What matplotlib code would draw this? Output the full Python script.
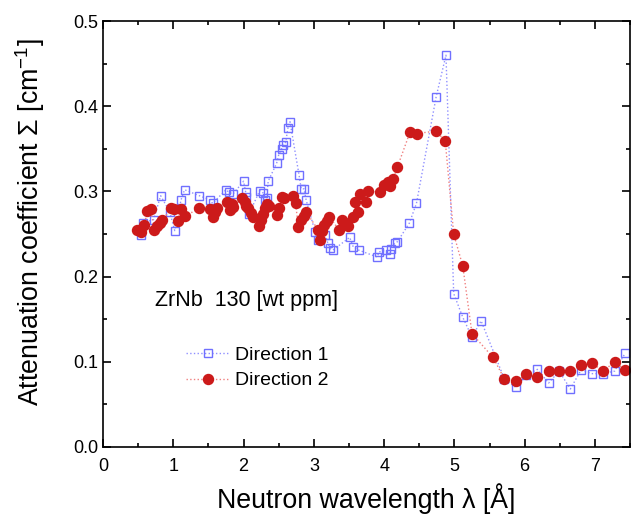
import matplotlib
matplotlib.use('Agg')
import matplotlib.pyplot as plt
from matplotlib.ticker import MultipleLocator

plt.rcParams['font.family'] = ['Liberation Sans', 'DejaVu Sans']
plt.rcParams['mathtext.fontset'] = 'custom'
plt.rcParams['mathtext.rm'] = 'Liberation Sans'

# Direction 1 (open squares)
x1 = [0.54, 0.57, 0.72, 0.82, 0.95, 1.02, 1.11, 1.16, 1.37, 1.52, 1.56, 1.75, 1.79, 1.85,
      2.00, 2.03, 2.04, 2.08, 2.23, 2.28, 2.30, 2.33, 2.35, 2.47, 2.50, 2.54, 2.56, 2.60,
      2.63, 2.66, 2.79, 2.82, 2.86, 2.89, 3.02, 3.06, 3.16, 3.20, 3.23, 3.27, 3.51, 3.56,
      3.64, 3.90, 3.93, 4.03, 4.08, 4.10, 4.15, 4.19, 4.36, 4.46, 4.74, 4.88, 4.99, 5.12,
      5.25, 5.38, 5.71, 5.87, 6.02, 6.18, 6.34, 6.49, 6.65, 6.80, 6.96, 7.12, 7.28, 7.43]
y1 = [0.249, 0.263, 0.267, 0.295, 0.276, 0.254, 0.290, 0.302, 0.295, 0.290, 0.286, 0.302,
      0.299, 0.297, 0.312, 0.299, 0.293, 0.274, 0.301, 0.298, 0.290, 0.292, 0.312, 0.333,
      0.343, 0.350, 0.354, 0.358, 0.374, 0.382, 0.319, 0.303, 0.303, 0.290, 0.252, 0.243,
      0.249, 0.239, 0.233, 0.231, 0.246, 0.235, 0.231, 0.223, 0.229, 0.231, 0.227, 0.232,
      0.239, 0.241, 0.263, 0.286, 0.411, 0.460, 0.180, 0.152, 0.129, 0.148, 0.080, 0.070,
      0.084, 0.091, 0.075, 0.089, 0.068, 0.090, 0.086, 0.086, 0.089, 0.110]

# Direction 2 (filled circles)
x2 = [0.49, 0.54, 0.59, 0.63, 0.68, 0.73, 0.77, 0.81, 0.84, 0.97, 1.01, 1.06, 1.11, 1.16,
      1.37, 1.52, 1.56, 1.59, 1.62, 1.77, 1.80, 1.84, 1.85, 1.98, 2.02, 2.04, 2.06, 2.10,
      2.13, 2.22, 2.25, 2.28, 2.31, 2.33, 2.36, 2.47, 2.51, 2.54, 2.58, 2.70, 2.74, 2.78,
      2.82, 2.86, 2.89, 3.06, 3.09, 3.12, 3.15, 3.19, 3.22, 3.36, 3.40, 3.45, 3.48, 3.55,
      3.59, 3.63, 3.66, 3.74, 3.77, 3.94, 4.00, 4.05, 4.09, 4.13, 4.19, 4.37, 4.47, 4.74,
      4.87, 4.99, 5.12, 5.25, 5.55, 5.71, 5.87, 6.02, 6.18, 6.34, 6.49, 6.65, 6.80, 6.96,
      7.12, 7.28, 7.43]
y2 = [0.255, 0.252, 0.261, 0.277, 0.279, 0.255, 0.259, 0.263, 0.266, 0.280, 0.279, 0.265,
      0.279, 0.271, 0.280, 0.279, 0.270, 0.276, 0.280, 0.288, 0.278, 0.285, 0.282, 0.292,
      0.288, 0.283, 0.280, 0.275, 0.270, 0.259, 0.266, 0.274, 0.280, 0.285, 0.283, 0.272,
      0.280, 0.293, 0.292, 0.295, 0.286, 0.258, 0.266, 0.271, 0.276, 0.255, 0.243, 0.254,
      0.260, 0.265, 0.270, 0.255, 0.266, 0.263, 0.259, 0.270, 0.288, 0.276, 0.297, 0.288,
      0.301, 0.299, 0.307, 0.311, 0.306, 0.315, 0.329, 0.370, 0.368, 0.371, 0.359, 0.250,
      0.212, 0.133, 0.105, 0.080, 0.077, 0.085, 0.082, 0.089, 0.089, 0.089, 0.096, 0.098,
      0.089, 0.100, 0.090]

fig = plt.figure(figsize=(6.32, 5.16), dpi=100)
ax = fig.add_axes([0.163, 0.134, 0.834, 0.825])

ax.plot(x1, y1, ls=':', color='#9090ff', lw=1, marker='s', ms=6,
        mfc='none', mec='#7070ff', mew=1, label='Direction 1')
ax.plot(x2, y2, ls=':', color='#f08080', lw=1, marker='o', ms=7.2,
        mfc='#cc1a1a', mec='#cc1a1a', label='Direction 2')

ax.set_xlim(0, 7.5)
ax.set_ylim(0, 0.5)
ax.xaxis.set_major_locator(MultipleLocator(1))
ax.xaxis.set_minor_locator(MultipleLocator(0.5))
ax.yaxis.set_major_locator(MultipleLocator(0.1))
ax.yaxis.set_minor_locator(MultipleLocator(0.05))
ax.tick_params(which='both', direction='in', top=True, right=True, width=1.2, labelsize=13)
ax.tick_params(axis='x', pad=8)
ax.tick_params(which='major', length=6)
ax.tick_params(which='minor', length=3)
for s in ax.spines.values():
    s.set_linewidth(1.2)

ax.set_xlabel('Neutron wavelength λ [Å]', fontsize=19.3, labelpad=6)
ax.set_ylabel('Attenuation coefficient Σ [cm$^{-1}$]', fontsize=19.3)
ax.yaxis.set_label_coords(-0.106, 0.528)

ax.text(0.74, 0.172, 'ZrNb  130 [wt ppm]', fontsize=15.5, va='center')
ax.legend(loc='lower left', bbox_to_anchor=(0.125, 0.094), frameon=False, fontsize=14,
          handlelength=2.2, handletextpad=0.3, labelspacing=0.4)

fig.savefig('out.png', dpi=100)
